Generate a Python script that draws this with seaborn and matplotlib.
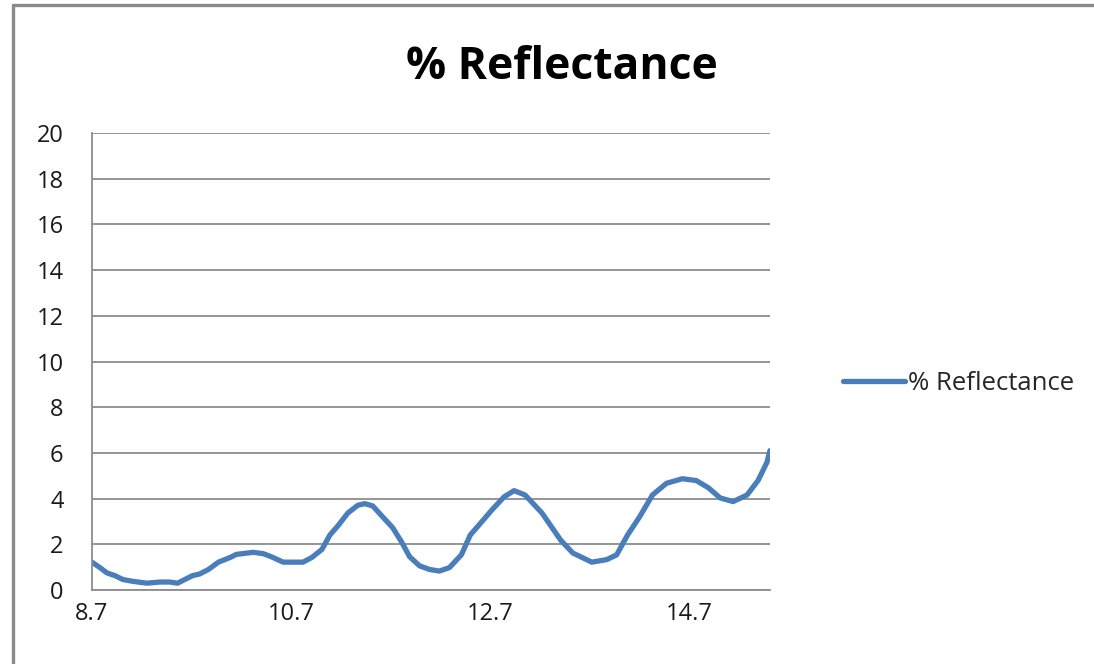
import matplotlib
matplotlib.use("Agg")
import matplotlib.pyplot as plt
from matplotlib.lines import Line2D
import seaborn as sns
import pandas as pd

# Wavelength (x) and percent reflectance (y) samples
wavelength = [8.70, 8.78, 8.85, 8.93, 9.01, 9.11, 9.25, 9.38, 9.48, 9.56,
              9.65, 9.71, 9.78, 9.87, 9.97, 10.09, 10.15, 10.32, 10.42, 10.50,
              10.62, 10.72, 10.82, 10.91, 11.01, 11.09, 11.17, 11.27, 11.37, 11.44,
              11.52, 11.62, 11.72, 11.81, 11.89, 11.99, 12.09, 12.19, 12.29, 12.41,
              12.50, 12.58, 12.72, 12.84, 12.94, 13.05, 13.22, 13.41, 13.53, 13.72,
              13.87, 13.97, 14.08, 14.20, 14.33, 14.47, 14.63, 14.77, 14.89, 15.01,
              15.14, 15.28, 15.39, 15.48, 15.51]
reflectance = [1.22, 0.98, 0.75, 0.63, 0.46, 0.38, 0.30, 0.35, 0.35, 0.30,
               0.50, 0.63, 0.70, 0.90, 1.22, 1.43, 1.56, 1.65, 1.59, 1.46,
               1.22, 1.22, 1.22, 1.43, 1.78, 2.41, 2.81, 3.37, 3.71, 3.78,
               3.68, 3.20, 2.73, 2.10, 1.46, 1.06, 0.90, 0.83, 0.98, 1.54,
               2.41, 2.81, 3.52, 4.08, 4.35, 4.16, 3.37, 2.17, 1.62, 1.22,
               1.33, 1.54, 2.41, 3.20, 4.16, 4.67, 4.87, 4.79, 4.48, 4.03,
               3.87, 4.16, 4.79, 5.59, 6.10]
x_ticks = [8.7, 10.7, 12.7, 14.7]
x_tick_labels = ["8.7", "10.7", "12.7", "14.7"]
y_ticks = list(range(0, 21, 2))
series_name = "% Reflectance"

df = pd.DataFrame({"Wavelength": wavelength, "Reflectance": reflectance,
                   "Series": series_name})

sns.set_theme(style="white")
plt.rcParams["font.family"] = ["Open Sans", "DejaVu Sans"]

fig = plt.figure(figsize=(10.94, 6.64), dpi=100)
ax = fig.add_axes([0.0841, 0.1114, 0.6197, 0.6883])

line_color = "#4a7ebb"
grid_color = "#8c8c8c"
sns.lineplot(data=df, x="Wavelength", y="Reflectance", hue="Series",
             palette=[line_color], linewidth=3.8, ax=ax, legend=False,
             estimator=None, sort=False)
for ln in ax.get_lines():
    ln.set_solid_joinstyle("round")
    ln.set_solid_capstyle("round")

ax.set_xlim(8.7, 15.51)
ax.set_ylim(0, 20)
ax.set_xticks(x_ticks)
ax.set_xticklabels(x_tick_labels)
ax.set_yticks(y_ticks)
ax.set_xlabel("")
ax.set_ylabel("")

ax.yaxis.grid(True, color=grid_color, linewidth=1.3)
ax.xaxis.grid(False)
ax.set_axisbelow(True)
for side in ("top", "right"):
    ax.spines[side].set_visible(False)
for side in ("left", "bottom"):
    ax.spines[side].set_color(grid_color)
    ax.spines[side].set_linewidth(1.3)

ax.tick_params(axis="both", which="major", direction="out", length=7.5,
               width=1.3, color=grid_color, labelsize=17, labelcolor="#1a1a1a")
ax.tick_params(axis="y", pad=13)
ax.tick_params(axis="x", pad=1)

fig.text(0.514, 0.898, series_name, ha="center", va="center",
         fontsize=32, fontweight="bold", color="black")

handle = Line2D([0], [0], color=line_color, linewidth=3.8)
fig.legend([handle], [series_name], loc="center left",
           bbox_to_anchor=(0.7705, 0.422), frameon=False, fontsize=18.5,
           handlelength=2.4, handletextpad=0.15, borderaxespad=0,
           borderpad=0)

# Chart-area frame along the top and left edges
fig.add_artist(Line2D([0.0115, 1.0], [0.9925, 0.9925], transform=fig.transFigure,
                      color="#8a8a8a", linewidth=2.4))
fig.add_artist(Line2D([0.0115, 0.0115], [0.0, 0.9925], transform=fig.transFigure,
                      color="#8a8a8a", linewidth=2.4))

fig.savefig("out.png", dpi=100, facecolor="white")
